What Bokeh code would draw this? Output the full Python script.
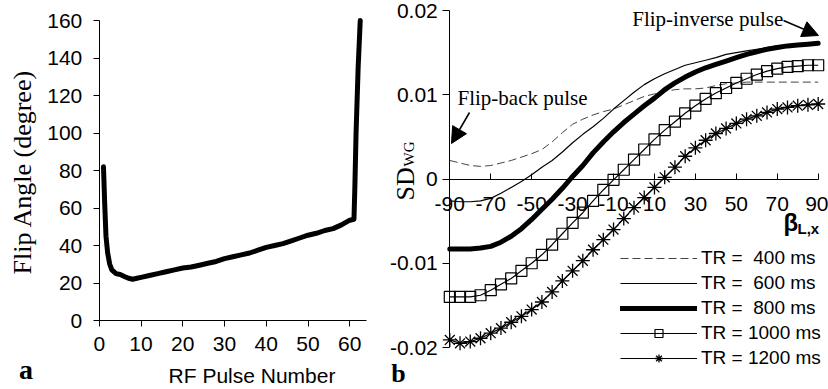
from math import pi
from bokeh.plotting import figure
from bokeh.models import (Label, Arrow, NormalHead, Legend, LegendItem,
                          FixedTicker, Range1d)
from bokeh.layouts import row
from bokeh.embed import file_html
from bokeh.resources import INLINE

# ---------------- data: panel a ----------------
pulse_number = [1, 1.3, 1.6, 2, 2.5, 3, 4, 5, 6, 7, 8, 9, 10, 12, 14, 16, 18, 20,
                22, 24, 26, 28, 30, 32, 34, 36, 38, 40, 42, 44, 46, 48, 50, 52,
                54, 56, 58, 60, 61, 61.2, 61.5, 62, 62.5]
flip_angle = [82, 62, 45, 36, 30, 27, 25, 24.5, 23.5, 22.5, 22, 22.5, 23, 24, 25,
              26, 27, 28, 28.5, 29.5, 30.5, 31.5, 33, 34, 35, 36, 37.5, 39, 40,
              41, 42.5, 44, 45.5, 46.5, 48, 49, 51, 53.5, 54, 70, 100, 135, 160]
a_xticks = [0, 10, 20, 30, 40, 50, 60]
a_yticks = [0, 20, 40, 60, 80, 100, 120, 140, 160]

# ---------------- data: panel b ----------------
beta = list(range(-90, 95, 5))
sd_tr400 = [0.0022, 0.0019, 0.0016, 0.0015, 0.0016, 0.0019, 0.0022, 0.0026, 0.0030,
            0.0035, 0.0044, 0.0055, 0.0065, 0.0071, 0.0076, 0.0080, 0.0083, 0.0088, 0.0093,
            0.0098, 0.0101, 0.0104, 0.0106, 0.0107, 0.0107, 0.0108, 0.0111, 0.0113, 0.0114,
            0.0115, 0.0115, 0.0115, 0.0115, 0.0115, 0.0115, 0.0115, 0.0115]
sd_tr600 = [-0.0026, -0.0027, -0.0027, -0.0026, -0.0023, -0.0017, -0.0010, -0.0003, 0.0005,
            0.0014, 0.0022, 0.0032, 0.0043, 0.0053, 0.0062, 0.0072, 0.0083, 0.0093, 0.0103,
            0.0112, 0.0119, 0.0125, 0.0130, 0.0135, 0.0138, 0.0141, 0.0144, 0.0148, 0.0150,
            0.0152, 0.0154, 0.0156, 0.0158, 0.0159, 0.0160, 0.0160, 0.0161]
sd_tr800 = [-0.0083, -0.0083, -0.0083, -0.0082, -0.0080, -0.0075, -0.0068, -0.0059, -0.0048,
            -0.0036, -0.0024, -0.0011, 0.0003, 0.0016, 0.0031, 0.0044, 0.0056, 0.0067, 0.0077,
            0.0087, 0.0096, 0.0106, 0.0114, 0.0121, 0.0127, 0.0132, 0.0136, 0.0140, 0.0144,
            0.0148, 0.0151, 0.0154, 0.0156, 0.0158, 0.0159, 0.0160, 0.0161]
sd_tr1000 = [-0.0140, -0.0140, -0.0140, -0.0138, -0.0132, -0.0125, -0.0118, -0.0109, -0.0100,
             -0.0090, -0.0078, -0.0065, -0.0052, -0.0040, -0.0026, -0.0013, -0.0001, 0.0011, 0.0023,
             0.0035, 0.0047, 0.0058, 0.0068, 0.0078, 0.0087, 0.0095, 0.0102, 0.0108, 0.0114,
             0.0119, 0.0124, 0.0128, 0.0131, 0.0133, 0.0134, 0.0135, 0.0135]
sd_tr1200 = [-0.0191, -0.0195, -0.0193, -0.0189, -0.0183, -0.0177, -0.0170, -0.0163, -0.0155,
             -0.0146, -0.0134, -0.0121, -0.0109, -0.0097, -0.0084, -0.0072, -0.0060, -0.0047, -0.0034,
             -0.0022, -0.0010, 0.0002, 0.0014, 0.0027, 0.0037, 0.0046, 0.0054, 0.0060, 0.0066,
             0.0071, 0.0075, 0.0079, 0.0083, 0.0085, 0.0087, 0.0088, 0.0089]
b_xticks = [-90, -70, -50, -30, -10, 10, 30, 50, 70, 90]
b_xlabels = ["-90", "-70", "-50", "-30", "-10", "10", "30", "50", "70", "90"]
b_yticks = [-0.02, -0.01, 0, 0.01, 0.02]
b_ylabels = ["-0.02", "-0.01", "0", "0.01", "0.02"]
legend_labels = ["TR =  400 ms", "TR =  600 ms", "TR =  800 ms", "TR = 1000 ms", "TR = 1200 ms"]

SANS = "Liberation Sans"
SERIF = "Liberation Serif"
TICK_FS = "21px"

# ---------------- layout geometry ----------------
W_TOTAL, H = 828, 389
W1 = 380
W2 = W_TOTAL - W1


def make_range(p_lo, p_hi, v_lo, v_hi, size, offset=0.0, flip=False):
    """Range such that value v_lo sits at reference pixel p_lo and v_hi at p_hi."""
    a = p_lo - offset
    b = p_hi - offset
    upp = (v_hi - v_lo) / (b - a)
    conv = (lambda px: v_lo + (px - offset - a) * upp)
    start = v_lo - a * upp
    end = start + size * upp
    if flip:
        return end, start, conv
    return start, end, conv


# panel a: x 0 at px 98.8, 64 at 366 ; y 0 at px 320, 160 at 20
ax0, ax1, ax_ = make_range(98.8, 366.0, 0, 64, W1)
ay0, ay1, ay_ = make_range(320.0, 20.0, 0, 160, H, flip=True)
# panel b: x -90 at px 449.3, 90 at 817.7 ; y -0.02 at 347, 0.02 at 10
bx0, bx1, bx_ = make_range(449.3, 817.7, -90, 90, W2, offset=W1)
by0, by1, by_ = make_range(347.0, 10.0, -0.02, 0.02, H, flip=True)


def style_axis(ax):
    ax.axis_line_color = "black"
    ax.axis_line_width = 1
    ax.major_tick_line_color = "black"
    ax.major_tick_out = 6
    ax.major_tick_in = 0
    ax.minor_tick_line_color = None
    ax.major_label_text_font = SANS
    ax.major_label_text_font_size = TICK_FS
    ax.major_label_text_color = "black"


def txt(p, conv_x, conv_y, px, py, text, size, font=SANS, bold=False, align="left",
        baseline="middle", angle=0.0):
    p.add_layout(Label(x=conv_x(px), y=conv_y(py), text=text, text_font=font,
                       text_font_style="bold" if bold else "normal",
                       text_font_size=size, text_align=align, text_baseline=baseline,
                       angle=angle, text_color="black"))


# ---------------- panel a ----------------
p1 = figure(width=W1, height=H, x_range=Range1d(ax0, ax1), y_range=Range1d(ay0, ay1),
            output_backend="svg", toolbar_location=None, min_border=0)
p1.outline_line_color = None
p1.grid.visible = False
p1.line(pulse_number, flip_angle, line_width=5, color="black",
        line_join="round", line_cap="round")
p1.xaxis.ticker = FixedTicker(ticks=a_xticks)
p1.yaxis.ticker = FixedTicker(ticks=a_yticks)
for ax in p1.axis:
    style_axis(ax)
p1.xaxis.fixed_location = 0
p1.xaxis.bounds = (0, 64)
p1.yaxis.fixed_location = 0
p1.yaxis.bounds = (0, 160)
p1.xaxis.major_label_standoff = 10
p1.yaxis.major_label_standoff = 11

txt(p1, ax_, ay_, 22, 171.5, "Flip Angle (degree)", "26px", font=SERIF, align="center",
    angle=pi / 2)
txt(p1, ax_, ay_, 251.5, 375, "RF Pulse Number", "21px", align="center")
txt(p1, ax_, ay_, 25.5, 369, "a", "28px", font=SERIF, bold=True, align="center")

# ---------------- panel b ----------------
p2 = figure(width=W2, height=H, x_range=Range1d(bx0, bx1), y_range=Range1d(by0, by1),
            output_backend="svg", toolbar_location=None, min_border=0)
p2.outline_line_color = None
p2.grid.visible = False
p2.yaxis.ticker = FixedTicker(ticks=b_yticks)
p2.yaxis.major_label_overrides = {t: l for t, l in zip(b_yticks, b_ylabels)}
p2.xaxis.ticker = FixedTicker(ticks=b_xticks)
p2.xaxis.major_label_overrides = {t: l for t, l in zip(b_xticks, b_xlabels)}
for ax in p2.axis:
    style_axis(ax)
p2.yaxis.fixed_location = -90
p2.yaxis.bounds = (-0.02, 0.02)
p2.yaxis.major_tick_out = 7
p2.yaxis.major_label_standoff = 5
p2.xaxis.fixed_location = 0
p2.xaxis.bounds = (-90, 90)
p2.xaxis.major_tick_out = 0
p2.xaxis.major_tick_in = 6
p2.xaxis.major_label_standoff = 18

r400 = p2.line(beta, sd_tr400, line_color="#444444", line_width=1, line_dash="8 4")
r600 = p2.line(beta, sd_tr600, line_color="black", line_width=1.2)
r800 = p2.line(beta, sd_tr800, line_color="black", line_width=5, line_cap="round",
               line_join="round")
r1000l = p2.line(beta, sd_tr1000, line_color="black", line_width=1.2)
r1000m = p2.scatter(beta, sd_tr1000, marker="square", size=11, fill_color=None,
                    line_color="black", line_width=1.2)
r1200l = p2.line(beta, sd_tr1200, line_color="black", line_width=1.2)
r1200m = p2.scatter(beta, sd_tr1200, marker="asterisk", size=14,
                    line_color="black", line_width=1.3)

txt(p2, bx_, by_, 783, 222, "\u03b2", "24px", bold=True)
txt(p2, bx_, by_, 797, 228, "L,x", "15px", bold=True)
txt(p2, bx_, by_, 405, 200, "SD", "26px", font=SERIF, baseline="alphabetic", angle=pi / 2)
txt(p2, bx_, by_, 408, 166, "WG", "15px", font=SERIF, baseline="alphabetic", angle=pi / 2)
txt(p2, bx_, by_, 398, 373, "b", "26px", font=SERIF, bold=True, align="center")
txt(p2, bx_, by_, 457, 97, "Flip-back pulse", "21px", font=SERIF)
txt(p2, bx_, by_, 631.7, 18, "Flip-inverse pulse", "21px", font=SERIF)

p2.add_layout(Arrow(end=NormalHead(size=16, fill_color="black", line_color="black"),
                    x_start=bx_(469), y_start=by_(112), x_end=bx_(451), y_end=by_(143),
                    line_color="black", line_width=1.5))
p2.add_layout(Arrow(end=NormalHead(size=16, fill_color="black", line_color="black"),
                    x_start=bx_(783), y_start=by_(20), x_end=bx_(818), y_end=by_(35),
                    line_color="black", line_width=1.5))

legend = Legend(items=[
    LegendItem(label=legend_labels[0], renderers=[r400]),
    LegendItem(label=legend_labels[1], renderers=[r600]),
    LegendItem(label=legend_labels[2], renderers=[r800]),
    LegendItem(label=legend_labels[3], renderers=[r1000l, r1000m]),
    LegendItem(label=legend_labels[4], renderers=[r1200l, r1200m]),
], location=(620 - W1, 20), glyph_width=77, glyph_height=20, label_height=20,
    label_standoff=4, spacing=3, padding=0, margin=0,
    label_text_font=SANS, label_text_font_size="19px", label_text_color="black",
    border_line_color=None, background_fill_alpha=0)
p2.add_layout(legend)

layout = row(p1, p2)
open("out.html", "w").write(file_html(layout, INLINE))
